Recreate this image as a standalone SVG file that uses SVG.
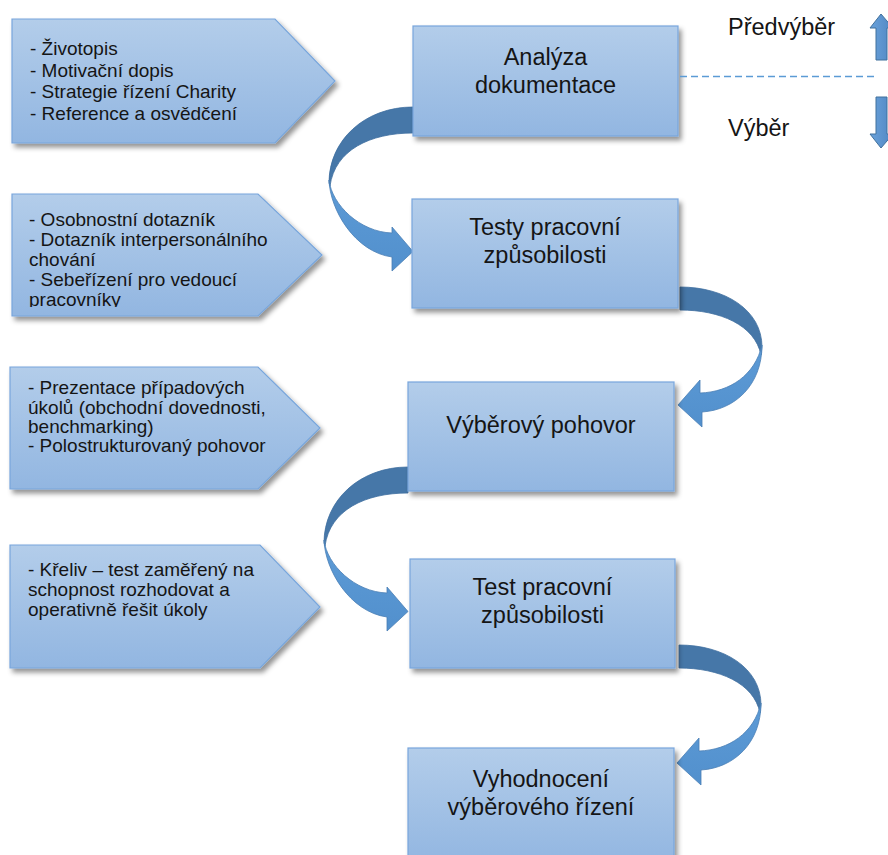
<svg xmlns="http://www.w3.org/2000/svg" xmlns:xlink="http://www.w3.org/1999/xlink" width="888" height="855" viewBox="0 0 888 855">
  <defs>
    <style>
      .shape { fill: url(#fillBlue); stroke: #78a6dc; stroke-width: 1.2; filter: url(#shadow); }
      .txt { font-family: "Liberation Sans", Arial, sans-serif; fill: #151515; }
      .list { font-size: 19px; }
      .title { font-size: 23.5px; text-anchor: middle; }
      .side { font-size: 23.5px; }
      .back { fill: #4677a8; stroke: #3f6f9f; stroke-width: 0.8; }
      .front { fill: url(#arrowLight); stroke: #4a7fb5; stroke-width: 0.8; }
      .phase { fill: url(#phaseArrow); stroke: #41719c; stroke-width: 1; }
    </style>
    <linearGradient id="fillBlue" x1="0" y1="0" x2="0" y2="1">
      <stop offset="0" stop-color="#b3cdea"/>
      <stop offset="1" stop-color="#92b6e1"/>
    </linearGradient>
    <linearGradient id="arrowLight" x1="0" y1="0" x2="0" y2="1">
      <stop offset="0" stop-color="#5d9bd6"/>
      <stop offset="1" stop-color="#5290cd"/>
    </linearGradient>
    <linearGradient id="phaseArrow" x1="0" y1="0" x2="1" y2="0">
      <stop offset="0" stop-color="#6aa2db"/>
      <stop offset="1" stop-color="#4f86c2"/>
    </linearGradient>
    <filter id="shadow" x="-10%" y="-10%" width="125%" height="130%">
      <feDropShadow dx="3" dy="4" stdDeviation="2.5" flood-color="#000" flood-opacity="0.42"/>
    </filter>
    <!-- the last list line overflows its shape and is cut off -->
    <clipPath id="clipP2">
      <rect x="0" y="190" width="340" height="117"/>
    </clipPath>

    <!-- curved arrow turning on the left side, pointing right -->
    <g id="curveLeft">
      <path class="back" d="M413,107 C365,107 329,140 329,183 L330,186 C335,150 370,133 413,133 Z"/>
      <path class="front" d="M329,180 C330,210 355,252 392,257 L392,271 L413,251.5 L392,227 L392,233 C360,232 332,205 329,180 Z"/>
    </g>
    <!-- curved arrow turning on the right side, pointing left -->
    <g id="curveRight">
      <path class="back" d="M680,287 C725,287 762,310 762,347 L761,355 C755,325 720,310 680,310 Z"/>
      <path class="front" d="M762,345 C762,385 735,410 702,412 L702,427 L678,405 L700,380 L700,393 C730,392 755,375 762,345 Z"/>
    </g>
  </defs>

  <rect width="888" height="855" fill="#ffffff"/>

  <!-- connectors between the stages -->
  <g id="connectors">
    <use xlink:href="#curveLeft" href="#curveLeft"/>
    <use xlink:href="#curveRight" href="#curveRight"/>
    <use xlink:href="#curveLeft" href="#curveLeft" transform="translate(-5,360)"/>
    <use xlink:href="#curveRight" href="#curveRight" transform="translate(-1,358)"/>
  </g>

  <!-- input lists -->
  <g id="inputs1">
    <polygon class="shape" points="12,19 275,19 335,81 275,143 12,143"/>
    <text class="txt list" x="30" y="55">- Životopis</text>
    <text class="txt list" x="30" y="77">- Motivační dopis</text>
    <text class="txt list" x="30" y="98">- Strategie řízení Charity</text>
    <text class="txt list" x="30" y="120">- Reference a osvědčení</text>
  </g>
  <g id="inputs2">
    <polygon class="shape" points="12,194 258,194 322,255 258,316 12,316"/>
    <g clip-path="url(#clipP2)">
      <text class="txt list" x="29" y="226">- Osobnostní dotazník</text>
      <text class="txt list" x="29" y="246">- Dotazník interpersonálního</text>
      <text class="txt list" x="29" y="266">chování</text>
      <text class="txt list" x="29" y="286">- Sebeřízení pro vedoucí</text>
      <text class="txt list" x="29" y="306">pracovníky</text>
    </g>
  </g>
  <g id="inputs3">
    <polygon class="shape" points="10,367 258,367 320,428 258,489 10,489"/>
    <text class="txt list" x="28" y="394">- Prezentace případových</text>
    <text class="txt list" x="28" y="414">úkolů (obchodní dovednosti,</text>
    <text class="txt list" x="28" y="433">benchmarking)</text>
    <text class="txt list" x="28" y="452">- Polostrukturovaný pohovor</text>
  </g>
  <g id="inputs4">
    <polygon class="shape" points="10,545 260,545 320,607 260,668 10,668"/>
    <text class="txt list" x="28" y="576">- Křeliv – test zaměřený na</text>
    <text class="txt list" x="28" y="596">schopnost rozhodovat a</text>
    <text class="txt list" x="28" y="616">operativně řešit úkoly</text>
  </g>

  <!-- process stages -->
  <g id="stage1">
    <rect class="shape" x="413" y="26" width="265" height="110"/>
    <text class="txt title" x="545.5" y="65">Analýza</text>
    <text class="txt title" x="545.5" y="93">dokumentace</text>
  </g>
  <g id="stage2">
    <rect class="shape" x="412" y="199" width="266" height="109"/>
    <text class="txt title" x="545" y="235">Testy pracovní</text>
    <text class="txt title" x="545" y="263">způsobilosti</text>
  </g>
  <g id="stage3">
    <rect class="shape" x="408" y="382" width="266" height="109"/>
    <text class="txt title" x="541" y="433">Výběrový pohovor</text>
  </g>
  <g id="stage4">
    <rect class="shape" x="410" y="559" width="265" height="109"/>
    <text class="txt title" x="542.5" y="595">Test pracovní</text>
    <text class="txt title" x="542.5" y="623">způsobilosti</text>
  </g>
  <g id="stage5">
    <rect class="shape" x="408" y="748" width="266" height="115"/>
    <text class="txt title" x="541" y="787">Vyhodnocení</text>
    <text class="txt title" x="541" y="815">výběrového řízení</text>
  </g>

  <!-- phase divider and labels -->
  <g id="phases">
    <line x1="680" y1="76.5" x2="878" y2="76.5" stroke="#5b9bd5" stroke-width="1.4" stroke-dasharray="7,4"/>
    <text class="txt side" x="728" y="35">Předvýběr</text>
    <text class="txt side" x="728" y="136">Výběr</text>
    <polygon class="phase" points="881,14 893,28 887,28 887,60 876,60 876,28 870,28"/>
    <polygon class="phase" points="876,97 887,97 887,134 893,134 881,148 870,134 876,134"/>
  </g>
</svg>
